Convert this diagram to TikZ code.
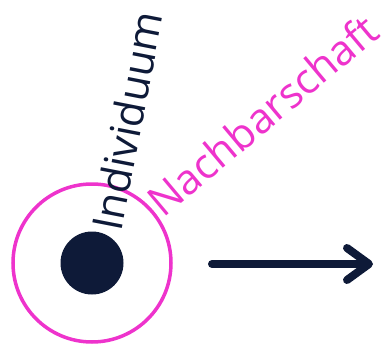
\documentclass[tikz,border=0pt]{standalone}
\usepackage{fontspec}
\setmainfont{Open Sans}
\usetikzlibrary{arrows.meta}
\definecolor{navy}{HTML}{0E1A38}
\definecolor{magenta}{HTML}{EE33CC}
\begin{document}
\begin{tikzpicture}[x=1pt,y=-1pt,
  label/.style={inner sep=0pt,anchor=base west,font=\fontsize{42}{42}\selectfont},
  pfeil/.style={draw=navy,line width=8pt,line cap=round,-{Straight Barb[length=22pt,width=32pt,round]}}]
\useasboundingbox (0,0) rectangle (383,348);
\coordinate (m) at (92,263);
% Nachbarschaft und Individuum
\draw[magenta,line width=3.5pt] (m) circle(79);
\fill[navy] (m) circle(31.5);
\node[label,text=navy,rotate=79] (ind) at (121,233) {Individuum};
\node[label,text=magenta,rotate=40] (nb) at (163,219) {Nachbarschaft};
% Bewegung
\coordinate (a) at (212,264);
\coordinate (b) at (373,264);
\draw[pfeil] (a) -- (b);
\end{tikzpicture}
\end{document}
